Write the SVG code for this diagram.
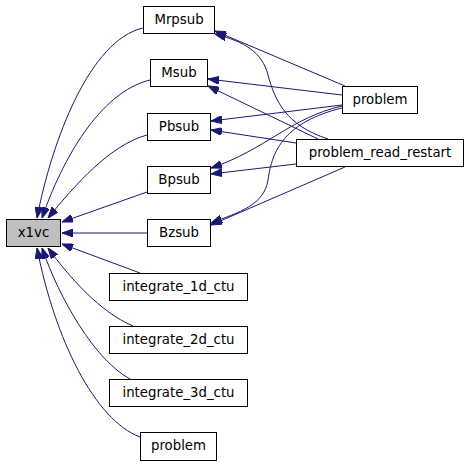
<svg xmlns="http://www.w3.org/2000/svg" width="469" height="467" viewBox="0 0 469 467">
<style>
.n rect{fill:#ffffff;stroke:#000000;stroke-width:1}
.n text{font-family:"DejaVu Sans","Liberation Sans",sans-serif;font-size:13.3px;text-anchor:middle;fill:#000000}
#x1vc rect{fill:#bfbfbf}
.e path{fill:none;stroke:#191970;stroke-width:1;marker-end:url(#ah)}
</style>
<defs>
<marker id="ah" viewBox="0 0 11 8" refX="11" refY="4" markerWidth="11" markerHeight="8" markerUnits="userSpaceOnUse" orient="auto">
<path d="M0,0 L11,4 L0,8 z" fill="#191970" stroke="#191970" stroke-width="1"/>
</marker>
</defs>
<rect width="469" height="467" fill="#ffffff"/>
<g class="e" id="edges">
<path d="M143,28 C90,40 52,140 37,218"/>
<path d="M150,80 C100,92 62,160 42,218"/>
<path d="M147,135 C110,145 75,185 48,218"/>
<path d="M147,192 L62,222"/>
<path d="M147,233 L62,233"/>
<path d="M140,273 L62,244"/>
<path d="M133,326 C100,312 70,278 48,248"/>
<path d="M130,379 C95,360 60,300 42,248"/>
<path d="M140,437 C95,420 55,340 37,248"/>
<path d="M345,86 L215,31"/>
<path d="M328,139 C285,125 275,100 268,75 C262,52 245,42 215,34"/>
<path d="M342,95 L208,79"/>
<path d="M318,139 L208,86"/>
<path d="M342,105 L211,121"/>
<path d="M296,143 L211,130"/>
<path d="M342,106 C290,118 265,150 211,168"/>
<path d="M296,164 L211,174"/>
<path d="M342,108 C285,122 272,150 268,180 C264,205 240,212 211,223"/>
<path d="M345,167 L211,225"/>
</g>
<g class="n" id="x1vc"><rect x="6.5" y="219.5" width="54" height="27"/><text x="33.5" y="236.5">x1vc</text></g>
<g class="n" id="Mrpsub"><rect x="143.5" y="6.5" width="71" height="27"/><text x="179" y="23.5">Mrpsub</text></g>
<g class="n" id="Msub"><rect x="150.5" y="59.5" width="57" height="27"/><text x="179" y="76.5">Msub</text></g>
<g class="n" id="Pbsub"><rect x="147.5" y="113.5" width="63" height="27"/><text x="179" y="130.5">Pbsub</text></g>
<g class="n" id="Bpsub"><rect x="147.5" y="166.5" width="63" height="27"/><text x="179" y="183.5">Bpsub</text></g>
<g class="n" id="Bzsub"><rect x="147.5" y="219.5" width="63" height="27"/><text x="179" y="236.5">Bzsub</text></g>
<g class="n" id="problem_r"><rect x="342.5" y="86.5" width="75" height="27"/><text x="380" y="103.5">problem</text></g>
<g class="n" id="problem_read_restart"><rect x="296.5" y="139.5" width="167" height="27"/><text x="380" y="157">problem_read_restart</text></g>
<g class="n" id="integrate_1d_ctu"><rect x="109.5" y="273.5" width="138" height="27"/><text x="178.5" y="290.5">integrate_1d_ctu</text></g>
<g class="n" id="integrate_2d_ctu"><rect x="109.5" y="326.5" width="138" height="27"/><text x="178.5" y="343.5">integrate_2d_ctu</text></g>
<g class="n" id="integrate_3d_ctu"><rect x="109.5" y="379.5" width="138" height="27"/><text x="178.5" y="396.5">integrate_3d_ctu</text></g>
<g class="n" id="problem_b"><rect x="140.5" y="432.5" width="76" height="28"/><text x="178.5" y="450">problem</text></g>
</svg>
